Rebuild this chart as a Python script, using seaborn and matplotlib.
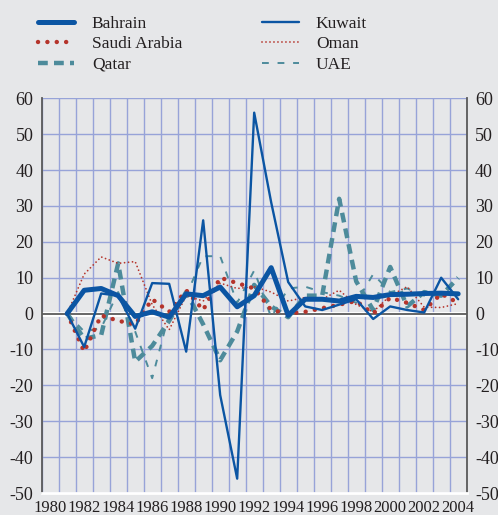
import matplotlib
matplotlib.use("Agg")
import matplotlib.pyplot as plt
import numpy as np
import pandas as pd
import seaborn as sns

# annual values, 1981-2004
years = list(range(1981, 2005))
bahrain = [0, 6.5, 7, 5, -0.8, 0.5, -1, 5.5, 5, 7.4, 1.9, 5, 12.8, -0.5, 4, 4, 3.5, 4.8, 4.5, 5.3, 5.4, 5.6, 5.7, 5.5]
kuwait = [0, -9.3, 5.6, 5, -4.2, 8.5, 8.3, -10.6, 26, -22.7, -46, 56, 31, 8.8, 2, 1, 2.5, 4, -1.5, 2, 1, 0.3, 10, 4]
saudi = [0, -10.6, -0.5, -2, -3, 4, 0.5, 6.5, 1, 10, 8.5, 7, 1, 0, 0.5, 1.5, 2.5, 3.5, 0, 4.4, 3, 1, 5.5, 3]
oman = [0, 11, 15.8, 14, 14.5, 2.5, -4.5, 5, 3.5, 8.5, 7, 7.5, 6, 3.5, 4.5, 4, 6.5, 2.5, 0.5, 5, 7.5, 1.8, 1.7, 2.8]
qatar = [0, -7, -6, 14, -13.4, -9, -2, 6, -3, -13, -5, 8, 2, -1, 5, 5, 32, 9, 1, 13, 2, 6, 5, 10]
uae = [0, -5, -4, 6, -5, -18, 0, 5, 16, 16, 3, 12, -1, 7, 7.5, 6, 5, 3, 11, 6, 7, 5, 6, 9]

df = pd.DataFrame({"year": years, "Bahrain": bahrain, "Kuwait": kuwait,
                   "Saudi Arabia": saudi, "Oman": oman, "Qatar": qatar, "UAE": uae})

sns.set_theme(style="white")
plt.rcParams["font.family"] = ["Liberation Serif", "DejaVu Serif"]
plt.rcParams["axes.unicode_minus"] = False

bg = "#E6E7E9"
blue = "#0B55A3"
red = "#B5342B"
teal = "#4D8B9B"
txt = "#231F20"

fig = plt.figure(figsize=(4.98, 5.15), dpi=100, facecolor=bg)
ax = fig.add_axes([0.0837, 0.0427, 0.8534, 0.7664])
ax.set_facecolor(bg)

styles = {
    "UAE": dict(color=teal, lw=1.4, linestyle=(0, (3.5, 4.5))),
    "Qatar": dict(color=teal, lw=3.2, linestyle=(0, (2.2, 1.4))),
    "Oman": dict(color=red, lw=1.3, linestyle=(0, (0.01, 2.2)), dash_capstyle="round"),
    "Saudi Arabia": dict(color=red, lw=3.2, linestyle=(0, (0.01, 2.1)), dash_capstyle="round"),
    "Kuwait": dict(color=blue, lw=1.7, linestyle="-"),
    "Bahrain": dict(color=blue, lw=3.6, linestyle="-"),
}

handles = {}
for name, st in styles.items():
    sns.lineplot(data=df, x="year", y=name, ax=ax, label=name, zorder=3, **st)
    handles[name] = ax.get_lines()[-1]
if ax.get_legend() is not None:
    ax.get_legend().remove()

# zero line
ax.axhline(0, color="white", lw=3.5, zorder=2)
ax.axhline(0, color="#5A5A5A", lw=1.3, zorder=2)

ax.set_xlim(1979.5, 2004.5)
ax.set_ylim(-50, 60)
ax.set_yticks(range(-50, 61, 10))
ax.set_xticks(range(1980, 2005, 2))
ax.set_xticks(np.arange(1979.5, 2005, 1), minor=True)
ax.set_xlabel("")
ax.set_ylabel("")

ax.yaxis.grid(True, color="#97A3D8", lw=1)
ax.xaxis.grid(True, which="minor", color="#97A3D8", lw=1)
ax.xaxis.grid(False, which="major")
ax.set_axisbelow(True)

ax.tick_params(axis="y", labelleft=True, labelright=True, left=False, right=False,
               length=0, pad=6, labelsize=13, labelcolor=txt)
ax.tick_params(axis="x", which="major", length=0, pad=5, labelsize=12, labelcolor=txt)
ax.tick_params(axis="x", which="minor", length=4, width=1, color="#444444", direction="out")

ax.spines["top"].set_visible(False)
ax.spines["bottom"].set_color("white")
ax.spines["bottom"].set_linewidth(2)
for s in ("left", "right"):
    ax.spines[s].set_color("#5A5A5A")
    ax.spines[s].set_linewidth(1.3)

order = ["Bahrain", "Saudi Arabia", "Qatar", "Kuwait", "Oman", "UAE"]
fig.legend([handles[n] for n in order], order, loc="upper left", bbox_to_anchor=(0.045, 1.0),
           ncol=2, frameon=False, fontsize=12.5, handlelength=2.1, handletextpad=1.0,
           columnspacing=4.6, labelspacing=0.25, labelcolor=txt)

fig.savefig("out.png", dpi=100, facecolor=bg)
